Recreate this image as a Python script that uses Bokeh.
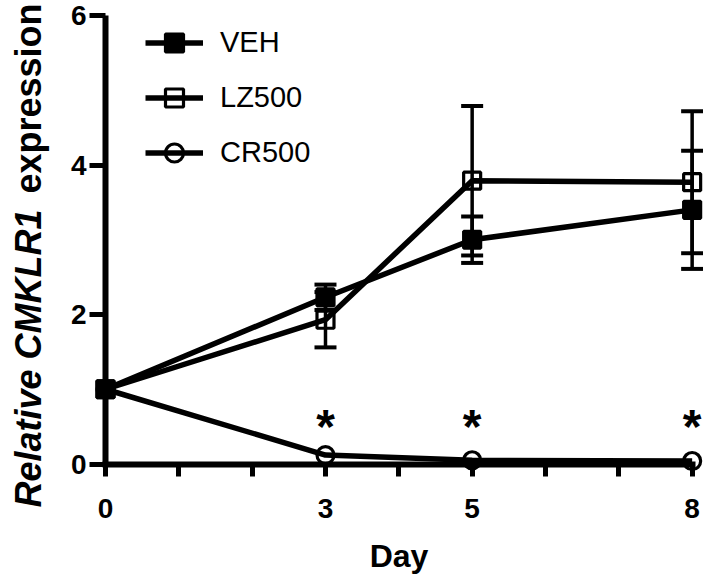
import math
from bokeh.plotting import figure
from bokeh.models import (LinearAxis, FixedTicker, Whisker, ColumnDataSource,
                          Legend, LegendItem, Label, TeeHead)
from bokeh.core.properties import value
from bokeh.embed import file_html
from bokeh.resources import INLINE

# ---------------- data ----------------
days = [0, 3, 5, 8]
veh = [1.0, 2.23, 3.00, 3.40]
veh_err = [0.0, 0.17, 0.31, 0.79]
lz500 = [1.0, 1.93, 3.79, 3.77]
lz500_err = [0.0, 0.37, 1.00, 0.95]
cr500 = [1.0, 0.12, 0.05, 0.04]
cr500_err = [0.0, 0.0, 0.0, 0.0]
series_names = ["VEH", "LZ500", "CR500"]
star_days = [3, 5, 8]
star_level = 0.50
x_ticks = [0, 1, 2, 3, 4, 5, 6, 7, 8]
x_labelled = [0, 3, 5, 8]
y_ticks = [0, 2, 4, 6]
x_title = "Day"
y_title_italic = "Relative CMKLR1"
y_title_plain = "expression"

# ---------------- layout ----------------
W, H = 703, 583
X0_PX, X_SCALE = 105.0, 73.33     # canvas px of x=0, px per day
Y0_PX, Y_SCALE = 463.5, 74.75     # canvas px (from top) of y=0, px per unit
x_start, x_end = -X0_PX / X_SCALE, (W - X0_PX) / X_SCALE
y_end, y_start = Y0_PX / Y_SCALE, -(H - Y0_PX) / Y_SCALE

FONT = "Liberation Sans"

p = figure(width=W, height=H, x_range=(x_start, x_end), y_range=(y_start, y_end),
           output_backend="svg", toolbar_location=None,
           x_axis_type=None, y_axis_type=None,
           min_border=0, min_border_left=0, min_border_right=0,
           min_border_top=0, min_border_bottom=0)
p.outline_line_color = None
p.background_fill_color = "white"
p.border_fill_color = "white"
p.xgrid.visible = False
p.ygrid.visible = False

# axes fixed at the origin
xaxis = LinearAxis(fixed_location=0, bounds=(0, 8),
                   ticker=FixedTicker(ticks=x_ticks, minor_ticks=[]))
xaxis.major_label_overrides = {t: ("" if t not in x_labelled else str(t)) for t in x_ticks}
xaxis.axis_line_width = 6
xaxis.axis_line_cap = "square"
xaxis.major_tick_line_width = 5
xaxis.major_tick_out = 12
xaxis.major_tick_in = 0
xaxis.minor_tick_line_color = None
xaxis.major_label_standoff = 23
xaxis.major_label_text_font = FONT
xaxis.major_label_text_font_style = "bold"
xaxis.major_label_text_font_size = "28px"
xaxis.major_label_text_color = "black"
xaxis.axis_label = x_title
xaxis.axis_label_text_font = FONT
xaxis.axis_label_text_font_style = "bold"
xaxis.axis_label_text_font_size = "32px"
xaxis.axis_label_text_color = "black"
xaxis.axis_label_standoff = 16
p.add_layout(xaxis, "below")

yaxis = LinearAxis(fixed_location=0, bounds=(0, 6),
                   ticker=FixedTicker(ticks=y_ticks, minor_ticks=[]))
yaxis.axis_line_width = 6
yaxis.major_tick_line_width = 5
yaxis.major_tick_out = 16
yaxis.major_tick_in = 0
yaxis.minor_tick_line_color = None
yaxis.major_label_standoff = 3
yaxis.major_label_text_font = FONT
yaxis.major_label_text_font_style = "bold"
yaxis.major_label_text_font_size = "28px"
yaxis.major_label_text_color = "black"
p.add_layout(yaxis, "left")

# error bars
def add_err(vals, errs):
    xs = [d for d, e in zip(days, errs) if e > 0]
    up = [v + e for v, e in zip(vals, errs) if e > 0]
    lo = [v - e for v, e in zip(vals, errs) if e > 0]
    if not xs:
        return
    src = ColumnDataSource(dict(x=xs, upper=up, lower=lo))
    w = Whisker(base="x", upper="upper", lower="lower", source=src,
                line_width=3.5, line_color="black",
                upper_head=TeeHead(size=22, line_width=4, line_color="black"),
                lower_head=TeeHead(size=22, line_width=4, line_color="black"))
    w.level = "underlay"
    p.add_layout(w)

add_err(veh, veh_err)
add_err(lz500, lz500_err)
add_err(cr500, cr500_err)

LW = 5.5
items = []
specs = [(veh, "square", 1.0), (lz500, "square", 0.0), (cr500, "circle", 0.0)]
for name, (vals, mk, fa) in zip(series_names, specs):
    src = ColumnDataSource(dict(x=days, y=vals))
    lr = p.line("x", "y", source=src, line_color="black", line_width=LW)
    mr = p.scatter("x", "y", source=src, marker=mk, size=17,
                   line_color="black", line_width=3.2,
                   fill_color="black", fill_alpha=fa)
    items.append(LegendItem(label=name, renderers=[lr, mr]))

# significance stars
p.text(x=star_days, y=[star_level] * len(star_days), text=["*"] * len(star_days),
       text_align="center", text_baseline="alphabetic",
       text_font=value(FONT), text_font_style="bold", text_font_size="48px",
       text_color="black")

legend = Legend(items=items, location=(145, 408), orientation="vertical",
                glyph_width=58, glyph_height=45, spacing=10, padding=0, margin=0,
                label_standoff=17, label_text_font=FONT, label_text_font_size="29px",
                label_text_color="black", border_line_color=None,
                background_fill_alpha=0)
p.add_layout(legend)

# y-axis title (mixed italic / upright)
lab_x = (28 - X0_PX) / X_SCALE
lab1 = Label(x=lab_x, y=(Y0_PX - 507) / Y_SCALE, text=y_title_italic,
             angle=math.pi / 2, text_align="left", text_baseline="alphabetic",
             text_font=FONT, text_font_style="bold italic", text_font_size="36px",
             text_color="black")
lab2 = Label(x=lab_x, y=(Y0_PX - 193) / Y_SCALE, text=y_title_plain,
             angle=math.pi / 2, text_align="left", text_baseline="alphabetic",
             text_font=FONT, text_font_style="bold", text_font_size="36px",
             text_color="black")
p.add_layout(lab1)
p.add_layout(lab2)

open("out.html", "w").write(file_html(p, INLINE))
